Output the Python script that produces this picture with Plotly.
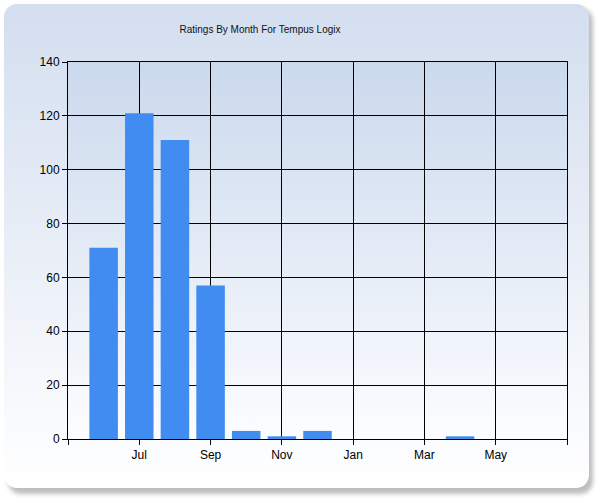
import base64
import plotly.graph_objects as go

# ---- data ----
months = ["Jun", "Jul", "Aug", "Sep", "Oct", "Nov", "Dec", "Jan", "Feb", "Mar", "Apr", "May"]
ratings = [71, 121, 111, 57, 3, 1, 3, 0, 0, 0, 1, 0]
x_tick_positions = [-1, 1, 3, 5, 7, 9, 11, 13]
x_tick_labels = ["", "Jul", "Sep", "Nov", "Jan", "Mar", "May", ""]
y_ticks = [0, 20, 40, 60, 80, 100, 120, 140]
title_text = "Ratings By Month For Tempus Logix"

W, H = 600, 500
L, R, T, B = 68, 33, 62, 61
pw, ph = W - L - R, H - T - B

# background (rounded frame with gradient, shadow and plot-area gradient) as an SVG image
svg = f"""<svg xmlns='http://www.w3.org/2000/svg' width='{W}' height='{H}' viewBox='0 0 {W} {H}'>
<defs>
<linearGradient id='g1' x1='0' y1='0' x2='0' y2='1'>
<stop offset='0' stop-color='#D3DEEF'/><stop offset='1' stop-color='#FFFFFF'/></linearGradient>
<linearGradient id='g2' x1='0' y1='0' x2='0' y2='1'>
<stop offset='0' stop-color='#CBD9ED'/><stop offset='1' stop-color='#FCFDFF'/></linearGradient>
<filter id='f' x='-5%' y='-5%' width='110%' height='110%'><feGaussianBlur stdDeviation='2'/></filter>
</defs>
<rect x='0' y='0' width='{W}' height='{H}' fill='#FFFFFF'/>
<rect x='8' y='8' width='585' height='486' rx='13' ry='13' fill='#A8A8A8' fill-opacity='0.75' filter='url(#f)'/>
<rect x='4' y='4' width='585' height='484' rx='13' ry='13' fill='url(#g1)'/>
<rect x='{L}' y='{T}' width='{pw}' height='{ph}' fill='url(#g2)'/>
</svg>"""
src = "data:image/svg+xml;base64," + base64.b64encode(svg.encode()).decode()

fig = go.Figure()
fig.add_trace(go.Bar(
    x=list(range(len(months))),
    y=ratings,
    width=0.8,
    marker=dict(color="#418CF0", line=dict(width=0)),
    hovertext=months,
))

fig.add_layout_image(dict(
    source=src, xref="paper", yref="paper",
    x=-L / pw, y=1 + T / ph, sizex=W / pw, sizey=H / ph,
    xanchor="left", yanchor="top", sizing="stretch", layer="below",
))

axis_font = dict(family="Liberation Sans, Arial, sans-serif", size=12, color="#000000")
fig.update_layout(
    width=W, height=H,
    margin=dict(l=L, r=R, t=T, b=B, pad=0),
    paper_bgcolor="rgba(0,0,0,0)",
    plot_bgcolor="rgba(0,0,0,0)",
    showlegend=False,
    bargap=0.2,
    title=dict(
        text=title_text, xref="container", yref="container",
        x=260 / W, xanchor="center", y=1 - 29 / H, yanchor="middle",
        font=dict(family="Liberation Sans, Arial, sans-serif", size=10, color="#111111"),
    ),
    xaxis=dict(
        range=[-1, 13], tickmode="array", tickvals=x_tick_positions, ticktext=x_tick_labels,
        showgrid=True, gridcolor="#000000", gridwidth=1,
        showline=True, linecolor="#000000", linewidth=1, mirror=True,
        ticks="outside", ticklen=5, tickcolor="#000000", tickwidth=1,
        tickfont=axis_font, zeroline=False, fixedrange=True,
    ),
    yaxis=dict(
        range=[0, 140], tickmode="array", tickvals=y_ticks,
        showgrid=True, gridcolor="#000000", gridwidth=1,
        showline=True, linecolor="#000000", linewidth=1, mirror=True,
        ticks="outside", ticklen=5, tickcolor="#000000", tickwidth=1,
        tickfont=axis_font, zeroline=False, fixedrange=True,
    ),
)

fig.write_html(
    "out.html",
    config={"displayModeBar": False},
    post_script="document.body.style.margin='0';document.body.style.overflow='hidden';",
)
